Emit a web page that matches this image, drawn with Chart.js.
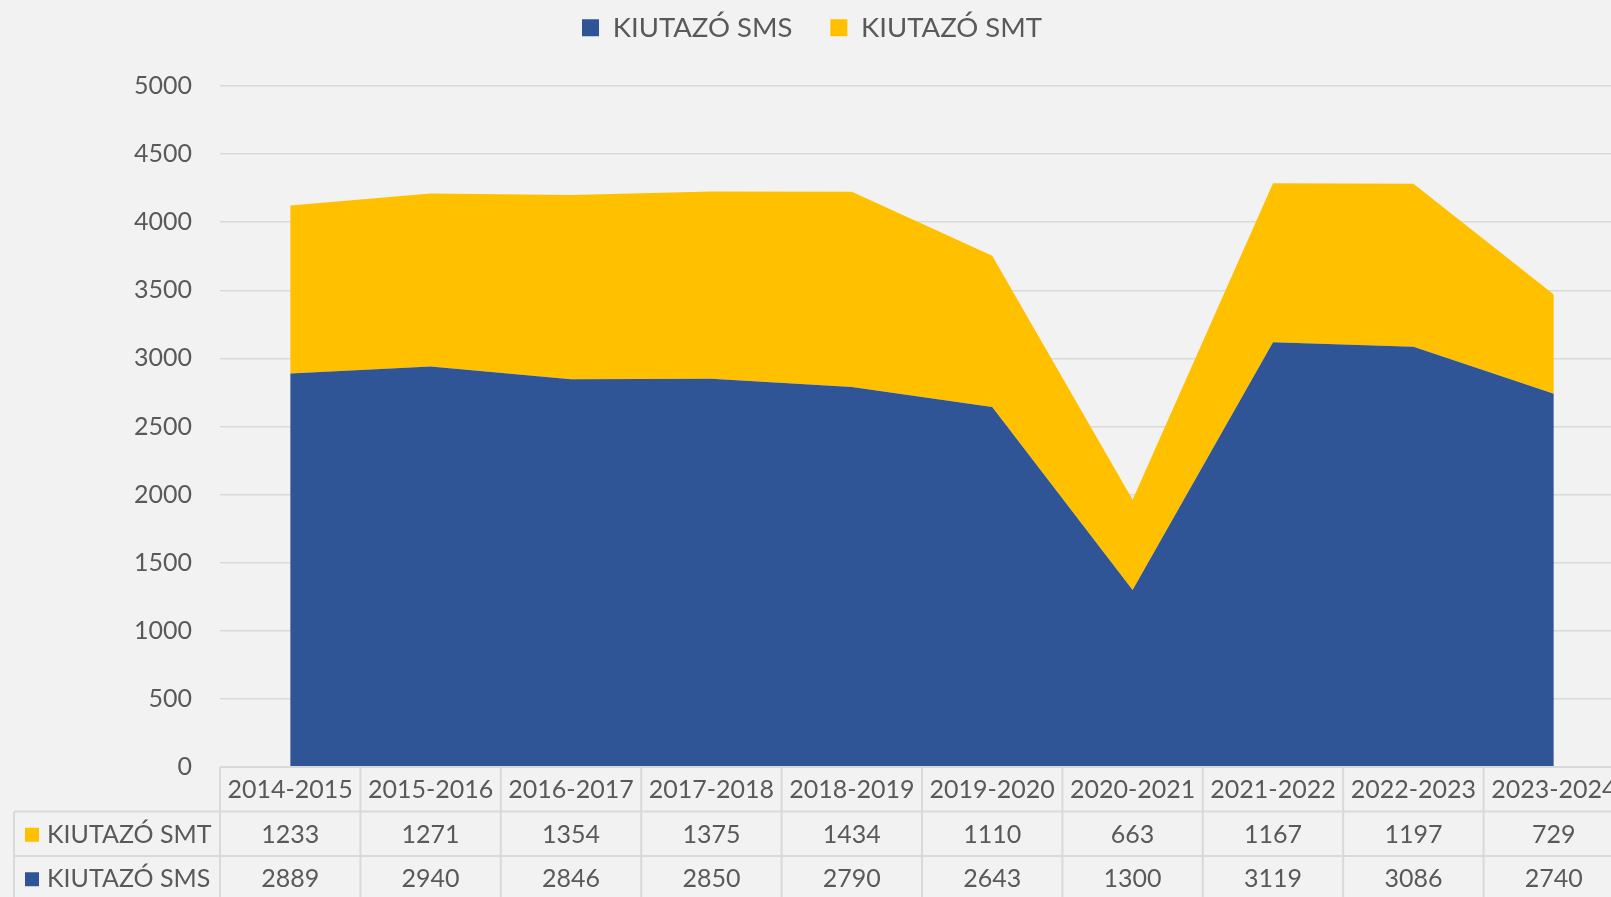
<!DOCTYPE html>
<html>
<head>
<meta charset="utf-8">
<script src="https://cdn.jsdelivr.net/npm/chart.js@4"></script>
<style>
  html, body { margin: 0; padding: 0; background: #f2f2f2; overflow: hidden; }
  #wrap { width: 1640px; height: 897px; }
</style>
</head>
<body>
<div id="wrap"><canvas id="chart"></canvas></div>
<script>
const categories = ['2014-2015', '2015-2016', '2016-2017', '2017-2018', '2018-2019',
    '2019-2020', '2020-2021', '2021-2022', '2022-2023', '2023-2024'];
const smsValues = [2889, 2940, 2846, 2850, 2790, 2643, 1300, 3119, 3086, 2740];
const smtValues = [1233, 1271, 1354, 1375, 1434, 1110, 663, 1167, 1197, 729];
const yTicks = [0, 500, 1000, 1500, 2000, 2500, 3000, 3500, 4000, 4500, 5000];

const textColor = '#595959';
const lineColor = '#d9d9d9';
const blue = '#2f5597';
const yellow = '#ffc000';
const fontFamily = 'Lato, "Open Sans", sans-serif';

// rows of the data table under the chart (top to bottom)
const tableRows = [
    { label: 'KIUTAZÓ SMT', color: yellow, values: smtValues },
    { label: 'KIUTAZÓ SMS', color: blue, values: smsValues }
];

// legend padding is also the gap between items, so fix its height here
const legendSpace = {
    id: 'legendSpace',
    beforeInit(chart) {
        const fit = chart.legend.fit;
        chart.legend.fit = function () {
            fit.bind(chart.legend)();
            this.height = 110;
        };
    }
};

const dataTable = {
    id: 'dataTable',
    afterDraw(chart) {
        const ctx = chart.ctx;
        const x = chart.scales.x;
        const area = chart.chartArea;
        const step = x.getPixelForValue(1) - x.getPixelForValue(0);
        const rowH = 44.5;
        const top = area.bottom;
        const left = 14;
        const right = chart.width;
        const bottom = chart.height;

        ctx.save();
        ctx.strokeStyle = lineColor;
        ctx.lineWidth = 2;
        ctx.beginPath();
        ctx.moveTo(area.left, top);
        ctx.lineTo(right, top);
        for (let r = 1; r <= tableRows.length; r++) {
            ctx.moveTo(left, top + r * rowH);
            ctx.lineTo(right, top + r * rowH);
        }
        ctx.moveTo(left, top + rowH);
        ctx.lineTo(left, bottom);
        for (let i = 0; i <= categories.length; i++) {
            const bx = x.getPixelForValue(i) - step / 2;
            ctx.moveTo(bx, top);
            ctx.lineTo(bx, bottom);
        }
        ctx.stroke();

        ctx.fillStyle = textColor;
        ctx.font = '25px ' + fontFamily;
        ctx.textAlign = 'center';
        ctx.textBaseline = 'middle';
        categories.forEach((c, i) => {
            ctx.fillText(c, x.getPixelForValue(i), top + rowH / 2 + 1);
        });

        tableRows.forEach((row, r) => {
            const cy = top + (r + 1) * rowH + rowH / 2 + 1;
            ctx.fillStyle = row.color;
            ctx.fillRect(25, cy - 7, 14, 14);
            ctx.fillStyle = textColor;
            ctx.textAlign = 'left';
            ctx.fillText(row.label, 47, cy);
            ctx.textAlign = 'center';
            row.values.forEach((v, i) => {
                ctx.fillText(String(v), x.getPixelForValue(i), cy);
            });
        });
        ctx.restore();
    }
};

const ctx = document.getElementById('chart').getContext('2d');
const chart = new Chart(ctx, {
    type: 'line',
    data: {
        labels: categories,
        datasets: [
            {
                label: 'KIUTAZÓ SMS',
                data: smsValues,
                backgroundColor: blue,
                borderColor: blue,
                borderWidth: 0,
                pointRadius: 0,
                fill: 'origin'
            },
            {
                label: 'KIUTAZÓ SMT',
                data: smtValues,
                backgroundColor: yellow,
                borderColor: yellow,
                borderWidth: 0,
                pointRadius: 0,
                fill: '-1'
            }
        ]
    },
    options: {
        responsive: true,
        maintainAspectRatio: false,
        animation: false,
        layout: {
            padding: { top: -24, bottom: 130, left: 0, right: 16 }
        },
        plugins: {
            legend: {
                position: 'top',
                labels: {
                    color: textColor,
                    font: { family: fontFamily, size: 27.5 },
                    boxWidth: 17,
                    boxHeight: 17,
                    padding: 38
                }
            },
            tooltip: { enabled: false }
        },
        scales: {
            x: {
                display: false,
                offset: true
            },
            y: {
                stacked: true,
                min: 0,
                max: 5000,
                afterBuildTicks(scale) {
                    scale.ticks = yTicks.map(v => ({ value: v }));
                },
                afterFit(scale) {
                    scale.width = 220;
                },
                border: { display: false },
                grid: {
                    color: lineColor,
                    lineWidth: 1.5,
                    drawTicks: false
                },
                ticks: {
                    color: textColor,
                    font: { family: fontFamily, size: 25 },
                    padding: 28,
                    callback: v => String(v)
                }
            }
        }
    },
    plugins: [legendSpace, dataTable]
});
</script>
</body>
</html>
